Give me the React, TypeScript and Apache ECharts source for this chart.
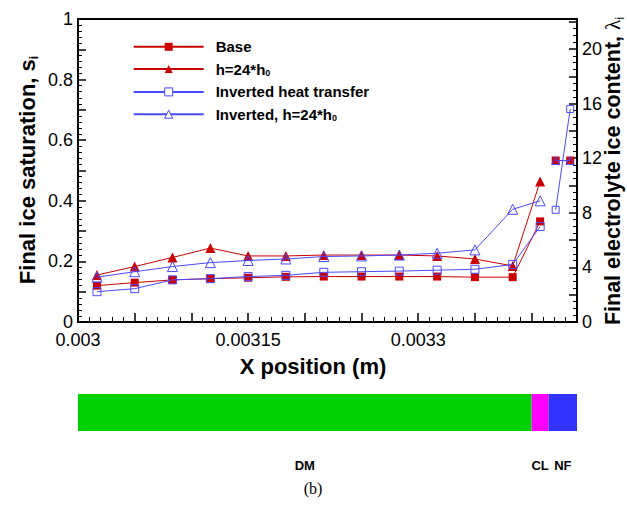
import React, { useEffect, useRef } from 'react';
import * as echarts from 'echarts';

// ---- data ----
const xPositions = [0.0030167, 0.00305, 0.0030833, 0.0031167, 0.00315, 0.0031833, 0.0032167, 0.00325, 0.0032833, 0.0033167, 0.00335, 0.0033833, 0.0034075];
const baseSat = [0.12, 0.13, 0.139, 0.143, 0.146, 0.149, 0.15, 0.15, 0.15, 0.15, 0.148, 0.148, 0.332];
const h24Sat = [0.155, 0.183, 0.213, 0.244, 0.218, 0.218, 0.221, 0.221, 0.221, 0.218, 0.208, 0.185, 0.464];
const invHTSat = [0.1, 0.11, 0.139, 0.143, 0.15, 0.154, 0.164, 0.166, 0.168, 0.171, 0.174, 0.19, 0.315];
const inv24Sat = [0.148, 0.166, 0.183, 0.196, 0.203, 0.208, 0.216, 0.218, 0.221, 0.227, 0.238, 0.372, 0.4];

const nfPositions = [0.0034212, 0.003434];
const baseLambda = [11.83, 11.83];
const h24Lambda = [11.83, 11.83];
const invHTLambda = [8.22, 15.6];
const inv24Lambda = [11.83, 11.83];

const seriesNames = ['Base', 'h=24*h0', 'Inverted heat transfer', 'Inverted, h=24*h0'];
const regionNames = ['DM', 'CL', 'NF'];
const regionStart = [0.003, 0.0034, 0.003415];
const regionEnd = [0.0034, 0.003415, 0.00344];
const regionColors = ['#00d200', '#ff00ff', '#3333ff'];

const xTickLabels = [0.003, 0.00315, 0.0033];
const satTickLabels = [0, 0.2, 0.4, 0.6, 0.8, 1];
const lambdaTickLabels = [0, 4, 8, 12, 16, 20];

const FONT = '"Liberation Sans", Arial, Helvetica, sans-serif';
const RED = '#cc0000';
const BLUE = '#4a4aff';

const pick = (list: number[]) => (v: number) => {
  const hit = list.find((l) => Math.abs(l - v) < 1e-9 * Math.max(1, Math.abs(l)));
  return hit !== undefined ? String(hit) : '';
};

const zip = (xs: number[], ys: number[]) => xs.map((x, i) => [x, ys[i]]);

function lineSeries(name: string, xs: number[], ys: number[], yIdx: number, color: string, symbol: string, size: number, filled: boolean, z: number) {
  return {
    type: 'line',
    name,
    xAxisIndex: 0,
    yAxisIndex: yIdx,
    data: zip(xs, ys),
    symbol,
    symbolSize: size,
    z,
    lineStyle: { color, width: 1 },
    itemStyle: filled
      ? { color, borderColor: color, borderWidth: 0 }
      : { color: 'rgba(255,255,255,0)', borderColor: color, borderWidth: 1 },
    emphasis: { disabled: true },
  };
}

export default function App() {
  const ref = useRef<HTMLDivElement>(null);
  useEffect(() => {
    document.body.style.margin = '0';
    if (!ref.current) return;
    const chart = echarts.init(ref.current, null, { renderer: 'svg' });

    const axisTextStyle = { fontSize: 18, lineHeight: 16, color: '#000', fontFamily: FONT };

    const dmSeries: any[] = [
      lineSeries(seriesNames[0], xPositions, baseSat, 0, RED, 'rect', 8, true, 2),
      lineSeries(seriesNames[1], xPositions, h24Sat, 0, RED, 'triangle', 10, true, 3),
      lineSeries(seriesNames[2], xPositions, invHTSat, 0, BLUE, 'rect', 8, false, 4),
      lineSeries(seriesNames[3], xPositions, inv24Sat, 0, BLUE, 'triangle', 10, false, 5),
    ];
    dmSeries[0].markLine = {
      silent: true,
      symbol: ['none', 'none'],
      label: { show: false },
      lineStyle: { color: '#000', width: 1.5, type: 'solid' },
      data: [{ xAxis: regionEnd[1] }],
    };
    const nfSeries = [
      lineSeries(seriesNames[0], nfPositions, baseLambda, 1, RED, 'rect', 8, true, 2),
      lineSeries(seriesNames[1], nfPositions, h24Lambda, 1, RED, 'triangle', 8, true, 3),
      lineSeries(seriesNames[2], nfPositions, invHTLambda, 1, BLUE, 'rect', 7, false, 4),
      lineSeries(seriesNames[3], nfPositions, inv24Lambda, 1, BLUE, 'triangle', 8, false, 5),
    ];

    const legendRich = {
      a: { fontSize: 15, fontWeight: 'bold', fontFamily: FONT, color: '#000', lineHeight: 16 },
      b: { fontSize: 9, fontWeight: 'bold', fontFamily: FONT, color: '#000', lineHeight: 6, verticalAlign: 'bottom' },
    };
    const legendText = (name: string) => {
      if (name.endsWith('h0')) return '{a|' + name.slice(0, -1) + '}{b|0}';
      return '{a|' + name + '}';
    };

    const option: any = {
      animation: false,
      grid: [
        { left: 78, top: 19, width: 499, height: 303, show: true, borderColor: '#000', borderWidth: 2, backgroundColor: 'transparent' },
        { left: 78, top: 394, width: 499, height: 37, show: false },
      ],
      xAxis: [
        {
          type: 'value',
          gridIndex: 0,
          min: 0.003,
          max: 0.00344,
          interval: 0.00005,
          axisLine: { onZero: false, lineStyle: { color: '#000', width: 2 } },
          axisTick: { inside: true, length: 9, lineStyle: { color: '#000', width: 1.5 } },
          minorTick: { show: true, splitNumber: 5, length: 5, lineStyle: { color: '#000', width: 1 } },
          splitLine: { show: false },
          minorSplitLine: { show: false },
          axisLabel: { ...axisTextStyle, margin: 10, formatter: pick(xTickLabels), showMaxLabel: false },
        },
        { type: 'value', gridIndex: 1, min: 0.003, max: 0.00344, show: false },
      ],
      yAxis: [
        {
          type: 'value',
          gridIndex: 0,
          position: 'left',
          min: 0,
          max: 1,
          interval: 0.1,
          axisLine: { show: true, onZero: false, lineStyle: { color: '#000', width: 2 } },
          axisTick: { inside: true, length: 8, lineStyle: { color: '#000', width: 1.5 } },
          minorTick: { show: true, splitNumber: 5, length: 4, lineStyle: { color: '#000', width: 1 } },
          splitLine: { show: false },
          minorSplitLine: { show: false },
          axisLabel: { ...axisTextStyle, margin: 5, formatter: pick(satTickLabels) },
        },
        {
          type: 'value',
          gridIndex: 0,
          position: 'right',
          min: 0,
          max: 22.2,
          interval: 2,
          axisLine: { show: true, onZero: false, lineStyle: { color: '#000', width: 2 } },
          axisTick: { inside: true, length: 8, lineStyle: { color: '#000', width: 1.5 } },
          minorTick: { show: true, splitNumber: 4, length: 4, lineStyle: { color: '#000', width: 1 } },
          splitLine: { show: false },
          minorSplitLine: { show: false },
          axisLabel: { ...axisTextStyle, margin: 5, formatter: pick(lambdaTickLabels), showMaxLabel: false },
        },
        { type: 'value', gridIndex: 1, min: 0, max: 1, show: false },
      ],
      legend: {
        orient: 'vertical',
        left: 127.7,
        top: 34.3,
        padding: 5,
        itemWidth: 70,
        itemHeight: 10,
        itemGap: 7.3,
        selectedMode: false,
        data: [
          { name: seriesNames[0] },
          { name: seriesNames[1] },
          { name: seriesNames[2], itemStyle: { color: '#fff', borderColor: BLUE, borderWidth: 1 } },
          { name: seriesNames[3], itemStyle: { color: '#fff', borderColor: BLUE, borderWidth: 1 } },
        ],
        formatter: legendText,
        textStyle: { padding: [0, 0, 0, 7], rich: legendRich },
      },
      graphic: [
        {
          type: 'text',
          x: 27,
          y: 170,
          rotation: Math.PI / 2,
          style: {
            text: '{a|Final ice saturation, s}{b|i}',
            align: 'center',
            verticalAlign: 'middle',
            rich: {
              a: { fontSize: 22, fontWeight: 'bold', fontFamily: FONT, fill: '#000', lineHeight: 26 },
              b: { fontSize: 12, fontWeight: 'bold', fontFamily: FONT, fill: '#000', lineHeight: 12, verticalAlign: 'bottom' },
            },
          },
        },
        {
          type: 'text',
          x: 613,
          y: 171,
          rotation: Math.PI / 2,
          style: {
            text: '{a|Final electrolyte ice content, }{c|λ}{b|i}',
            align: 'center',
            verticalAlign: 'middle',
            rich: {
              a: { fontSize: 21.5, fontWeight: 'bold', fontFamily: FONT, fill: '#000', lineHeight: 26 },
              c: { fontSize: 21.5, fontWeight: 'normal', fontFamily: '"Liberation Serif", "DejaVu Serif", serif', fill: '#000', lineHeight: 26 },
              b: { fontSize: 12, fontWeight: 'normal', fontFamily: FONT, fill: '#000', lineHeight: 12, verticalAlign: 'bottom' },
            },
          },
        },
        {
          type: 'text',
          x: 313,
          y: 366,
          style: { text: 'X position (m)', font: 'bold 22px ' + FONT, fill: '#000', align: 'center', verticalAlign: 'middle' },
        },
        {
          type: 'text',
          x: 313,
          y: 488,
          style: { text: '(b)', font: '16px "Liberation Serif", "Times New Roman", serif', fill: '#000', align: 'center', verticalAlign: 'middle' },
        },
      ],
      series: [
        ...dmSeries,
        ...nfSeries,
        {
          type: 'custom',
          xAxisIndex: 1,
          yAxisIndex: 2,
          silent: true,
          data: regionNames.map((n, i) => [regionStart[i], regionEnd[i], i]),
          encode: { x: [0, 1] },
          renderItem: (params: any, api: any) => {
            const i = api.value(2);
            const p0 = api.coord([api.value(0), 1]);
            const p1 = api.coord([api.value(1), 0]);
            return {
              type: 'group',
              children: [
                {
                  type: 'rect',
                  shape: { x: p0[0], y: p0[1], width: p1[0] - p0[0], height: p1[1] - p0[1] },
                  style: { fill: regionColors[i] },
                },
                {
                  type: 'text',
                  x: (p0[0] + p1[0]) / 2,
                  y: p1[1] + 34,
                  style: { text: regionNames[i], font: 'bold 13px ' + FONT, fill: '#000', align: 'center', verticalAlign: 'middle' },
                },
              ],
            };
          },
        },
      ],
    };

    chart.setOption(option);
    return () => chart.dispose();
  }, []);

  return <div ref={ref} style={{ width: 627, height: 514 }} />;
}
